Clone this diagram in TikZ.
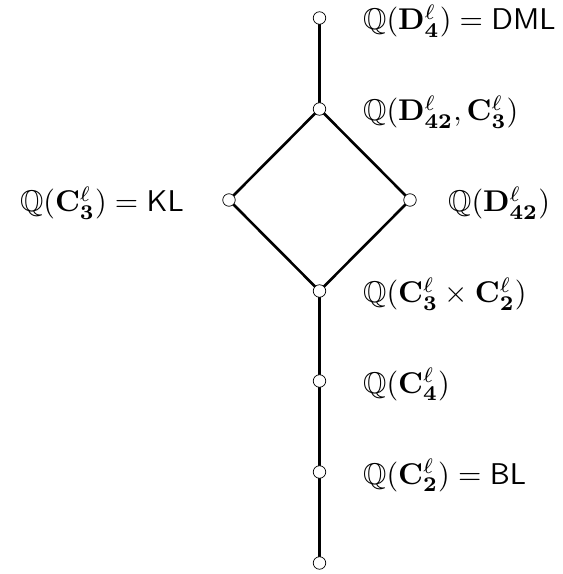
\documentclass[tikz,border=0pt]{standalone}
\usepackage{amsmath,amssymb}
\newcommand{\Lbl}[1]{\scalebox{3}{\normalsize #1}}
\begin{document}
\begin{tikzpicture}[x=1pt,y=1pt,
  vtx/.style={circle,draw,fill=white,inner sep=0pt,minimum size=12.5pt,line width=0.7pt},
  lab/.style={inner sep=0pt},
  edge/.style={line width=2.6pt}]
\useasboundingbox (0,0) rectangle (563,574);
\coordinate (p7) at (319.5,556);
\coordinate (p6) at (319.5,465);
\coordinate (pl) at (229,374);
\coordinate (pr) at (410,374);
\coordinate (p3) at (319.5,283);
\coordinate (p2) at (319.5,193);
\coordinate (p1) at (319.5,102);
\coordinate (p0) at (319.5,11);
\draw[edge] (p0) -- (p1) -- (p2) -- (p3) -- (pl) -- (p6) -- (p7);
\draw[edge] (p3) -- (pr) -- (p6);
\foreach \n in {p7,p6,pl,pr,p3,p2,p1,p0} \node[vtx] (v\n) at (\n) {};
\node[lab,anchor=base west] (l7) at (363,544) {\Lbl{$\mathbb{Q}(\mathbf{D}^{\ell}_{\mathbf{4}}) = \mathsf{DML}$}};
\node[lab,anchor=base west] (l6) at (363,453) {\Lbl{$\mathbb{Q}(\mathbf{D}^{\ell}_{\mathbf{42}}, \mathbf{C}^{\ell}_{\mathbf{3}})$}};
\node[lab,anchor=base east] (ll) at (184,362) {\Lbl{$\mathbb{Q}(\mathbf{C}^{\ell}_{\mathbf{3}}) = \mathsf{KL}$}};
\node[lab,anchor=base west] (lr) at (448,362) {\Lbl{$\mathbb{Q}(\mathbf{D}^{\ell}_{\mathbf{42}})$}};
\node[lab,anchor=base west] (l3) at (363,271) {\Lbl{$\mathbb{Q}(\mathbf{C}^{\ell}_{\mathbf{3}} \times \mathbf{C}^{\ell}_{\mathbf{2}})$}};
\node[lab,anchor=base west] (l2) at (363,181) {\Lbl{$\mathbb{Q}(\mathbf{C}^{\ell}_{\mathbf{4}})$}};
\node[lab,anchor=base west] (l1) at (363,90) {\Lbl{$\mathbb{Q}(\mathbf{C}^{\ell}_{\mathbf{2}}) = \mathsf{BL}$}};
\end{tikzpicture}
\end{document}
